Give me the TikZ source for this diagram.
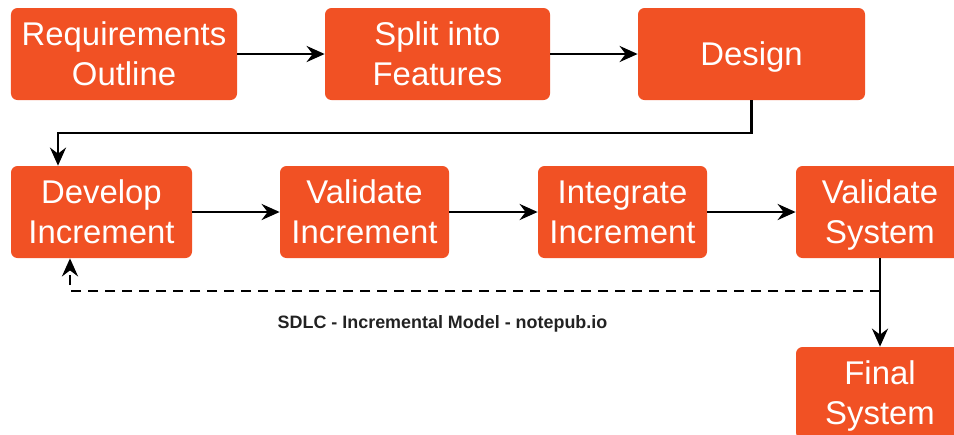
\documentclass[tikz,border=0pt]{standalone}
\usepackage{fontspec}
\setmainfont{Liberation Sans}
\usepackage{xcolor}
\usetikzlibrary{arrows.meta,positioning}

\definecolor{sdlcorange}{HTML}{F15124}
\definecolor{captiongray}{HTML}{222222}

\begin{document}
\begin{tikzpicture}[
    phase/.style={rectangle, fill=sdlcorange, text=white, align=center, rounded corners=0.13cm, minimum height=1.84cm, inner sep=0pt, text depth=0pt, font={\fontsize{18.7}{22.7}\selectfont}},
    flow/.style={-{Stealth[length=0.36cm, width=0.32cm, inset=0.12cm]}, line width=0.058cm}
]
\path[use as bounding box, clip] (0,0) rectangle (19.08,-8.68);

% Planning Row
\node[phase, minimum width=4.52cm] (req) at (2.48,-1.08) {Requirements\\Outline};
\node[phase, minimum width=4.50cm] (split) at (8.75,-1.08) {Split into\\Features};
\node[phase, minimum width=4.54cm] (design) at (15.03,-1.08) {Design};

% Increment Row
\node[phase, minimum width=3.62cm] (dev) at (2.03,-4.24) {Develop\\Increment};
\node[phase, minimum width=3.38cm] (valinc) at (7.29,-4.24) {Validate\\Increment};
\node[phase, minimum width=3.38cm] (integ) at (12.45,-4.24) {Integrate\\Increment};
\node[phase, minimum width=3.36cm] (valsys) at (17.60,-4.24) {Validate\\System};

% Result
\node[phase, minimum width=3.36cm] (final) at (17.60,-7.86) {Final\\System};

% Caption
\node[font={\fontsize{10.2}{12}\selectfont\bfseries}, text=captiongray] (caption) at (8.85,-6.47) {SDLC - Incremental Model - notepub.io};

% Connectors
\coordinate (turn) at (1.16,-2.66);
\coordinate (back) at (1.40,-5.82);
\draw[flow] (req) -- (split);
\draw[flow] (split) -- (design);
\draw[flow] (design.south) |- (turn) -- (turn |- dev.north);
\draw[flow] (dev) -- (valinc);
\draw[flow] (valinc) -- (integ);
\draw[flow] (integ) -- (valsys);
\draw[flow] (valsys) -- (final);
\draw[flow, dash pattern=on 0.2cm off 0.14cm] (valsys.south |- back) -- (back) -- (back |- dev.south);

\end{tikzpicture}
\end{document}
